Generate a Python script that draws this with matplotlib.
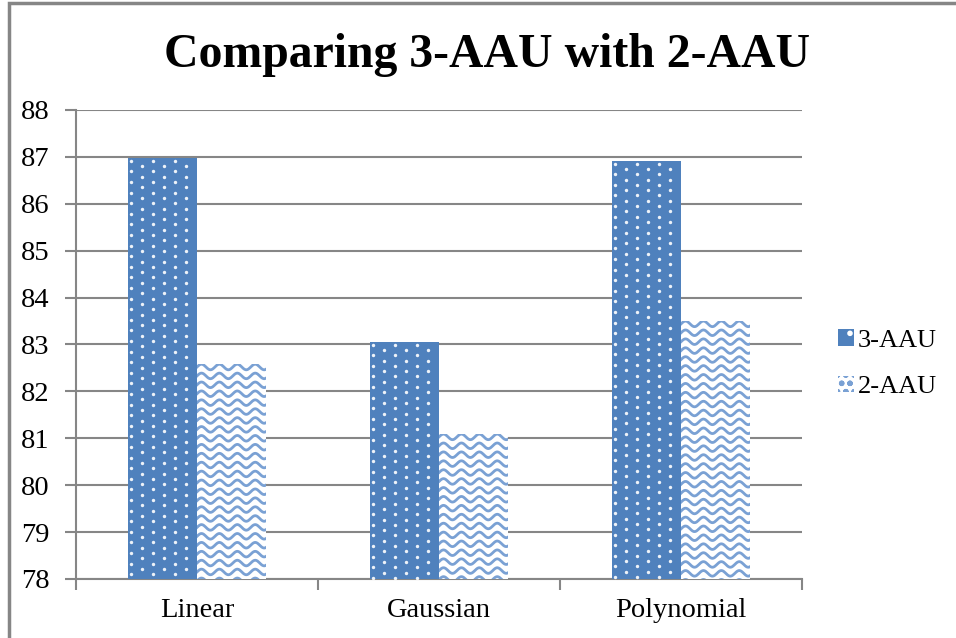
import numpy as np
import matplotlib
matplotlib.use("Agg")
import matplotlib.pyplot as plt
from matplotlib.patches import Rectangle, Patch

# datos
categorias = ["Linear", "Gaussian", "Polynomial"]
aau3 = [86.98, 83.06, 86.92]
aau2 = [82.58, 81.09, 83.50]
series = ["3-AAU", "2-AAU"]
yticks = list(range(78, 89))

azul = "#4F81BD"
azul_claro = "#7AA1D4"
gris = "#868686"

plt.rcParams["font.family"] = ["Liberation Serif", "DejaVu Serif"]
plt.rcParams["hatch.linewidth"] = 1.6

fig = plt.figure(figsize=(9.56, 6.38), dpi=100)
ax = fig.add_axes([0.0795, 0.0925, 0.7595, 0.7351])

x = np.arange(len(categorias))
w = 0.285

b3 = ax.bar(x - w / 2, np.array(aau3) - 78, w, bottom=78, color=azul,
            linewidth=0, zorder=3)
b2 = ax.bar(x + w / 2, np.array(aau2) - 78, w, bottom=78, color="white",
            linewidth=0, zorder=3)

# pixeles por unidad (aprox.)
px_x = 0.7595 * 956 / 3
px_y = 0.7351 * 638 / 10

# puntos blancos para 3-AAU
for barra in b3:
    x0 = barra.get_x()
    x1 = x0 + barra.get_width()
    top = barra.get_y() + barra.get_height()
    px, py = [], []
    fila = 0
    yy = top - 3 / px_y
    while yy > 78:
        xx = x0 + (3 + 11 * (fila % 2)) / px_x
        while xx < x1:
            px.append(xx)
            py.append(yy)
            xx += 22 / px_x
        yy -= 5.3 / px_y
        fila += 1
    sc = ax.scatter(px, py, s=6, color="white", alpha=0.9, linewidths=0, zorder=4)
    sc.set_clip_path(barra)

# ondas para la serie 2-AAU (recortadas a cada barra)
dy = 0.19
per = 0.074
amp = 0.06
for barra in b2:
    x0 = barra.get_x()
    x1 = x0 + barra.get_width()
    top = barra.get_y() + barra.get_height()
    xs = np.linspace(x0 - per, x1 + per, 200)
    yy = top - 0.06
    while yy > 77.8:
        l, = ax.plot(xs, yy + amp * np.sin(2 * np.pi * (xs - x0) / per),
                     color=azul_claro, lw=2.0, zorder=4)
        l.set_clip_path(barra)
        yy -= dy

ax.set_ylim(78, 88)
ax.set_xlim(-0.5, 2.5)
ax.set_yticks(yticks)
ax.set_xticks(x)
ax.set_xticklabels(categorias)
ax.set_xticks([-0.5, 0.5, 1.5, 2.5], minor=True)
ax.tick_params(axis="x", which="major", length=0, pad=14, labelsize=20.5)
ax.tick_params(axis="x", which="minor", length=8, width=1.5, color=gris)
ax.tick_params(axis="y", length=8, width=1.5, color=gris, labelsize=20.5, pad=11)
ax.grid(axis="y", color=gris, lw=1.5, zorder=0)
ax.set_axisbelow(True)
for s in ["top", "right"]:
    ax.spines[s].set_visible(False)
ax.spines["left"].set_color(gris)
ax.spines["bottom"].set_color(gris)
ax.spines["left"].set_linewidth(1.5)
ax.spines["bottom"].set_linewidth(1.5)

fig.text(0.51, 0.914, "Comparing 3-AAU with 2-AAU", ha="center", va="center",
         fontsize=34.4, fontweight="bold")

# leyenda
h3 = Patch(facecolor=azul, edgecolor="white", linewidth=0, hatch=".")
h2 = Patch(facecolor="white", edgecolor=azul_claro, linewidth=0, hatch="oo")
fig.legend([h3, h2], series, loc="center left", bbox_to_anchor=(0.852, 0.43),
           frameon=False, fontsize=19, handlelength=0.6, handleheight=0.6,
           handletextpad=0.15, labelspacing=0.9)

# marco del grafico
fig.patches.append(Rectangle((8.5 / 956, -0.1), 1.2, 1.1 - 3.5 / 638, transform=fig.transFigure,
                             fill=False, edgecolor=gris, lw=2.5))

fig.savefig("out.png", dpi=100)
